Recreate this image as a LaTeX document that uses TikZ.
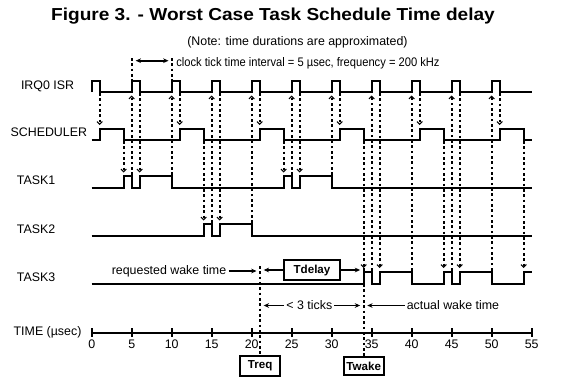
\documentclass[tikz,border=0pt]{standalone}
\usepackage{fontspec}
\setmainfont{Liberation Sans}
\usetikzlibrary{arrows.meta,positioning}
\tikzstyle{signal} = [line width=1.5pt]
\tikzstyle{marker} = [line width=1.3pt, dash pattern=on 2pt off 2pt]
\tikzstyle{handoff} = [marker, -{Straight Barb[length=2pt,width=4pt,line width=0.8pt]}]
\tikzstyle{legend} = [font=\fontsize{9.3}{11}\selectfont, inner sep=1.5pt]
\tikzstyle{box} = [draw, line width=1.5pt, font=\fontsize{8.7}{11}\selectfont\bfseries, inner xsep=1pt, minimum height=14pt]
\tikzstyle{arrow} = [line width=1.2pt, >={Stealth[length=4pt,width=3.5pt]}]
\newcommand{\drawHandDown}[3]{
  \draw[handoff] (#1,#2+1) -- (#1,#3-3.5);
}
\newcommand{\drawHandUp}[2]{
  \draw[handoff] (#1,#2-1) -- (#1,95.5);
}

\begin{document}
\begin{tikzpicture}[x=6pt, y=-0.75pt]
  \useasboundingbox (-11.4625,0) rectangle (58.9125,379);

  \node[anchor=base, font=\fontsize{13}{15}\selectfont\bfseries] (title) at (22.66,20.7) {\scalebox{1.1}[1]{Figure 3. - Worst Case Task Schedule Time delay}};
  \node[legend, anchor=base] (note) at (25.72,45) {(Note: time durations are approximated)};
  \node[legend, anchor=base west] (clock) at (10.3,66.5) {\scalebox{0.9}[1]{clock tick time interval = 5 µsec, frequency = 200 kHz}};

  % clock tick
  \draw[marker] (5,58) -- (5,81);
  \draw[marker] (10,58) -- (10,81);
  \draw[arrow,<->] (5.5,60.7) -- (9.6,60.7);

  % signal names
  \node[legend, anchor=base] (irqname) at (-5.52,89.5) {IRQ0 ISR};
  \node[legend, anchor=base] (schedname) at (-5.36,136.7) {SCHEDULER};
  \node[legend, anchor=base] (taskaname) at (-6.94,184.3) {TASK1};
  \node[legend, anchor=base] (taskbname) at (-6.94,233.3) {TASK2};
  \node[legend, anchor=base] (taskcname) at (-6.94,281.7) {TASK3};
  \node[legend, anchor=base] (timename) at (-5.52,335) {TIME (µsec)};

  % signals
  \draw[signal] (0,92) foreach \k in {0,5,...,50} {-- (\k,92) -- (\k,81) -- (\k+1,81) -- (\k+1,92)} -- (55,92);
  \draw[signal] (0,140) foreach \k in {0,10,...,50} {-- (\k+1,140) -- (\k+1,128.5) -- (\k+4,128.5) -- (\k+4,140)} -- (55,140);
  \draw[signal] (0,187.5) foreach \k in {0,20} {-- (\k+4,187.5) -- (\k+4,176) -- (\k+5,176) -- (\k+5,187.5) -- (\k+6,187.5) -- (\k+6,176) -- (\k+10,176) -- (\k+10,187.5)} -- (55,187.5);
  \draw[signal] (0,235.5) -- (14,235.5) -- (14,224) -- (15,224) -- (15,235.5) -- (16,235.5) -- (16,224) -- (20,224) -- (20,235.5) -- (55,235.5);
  \draw[signal] (0,283.5) foreach \k in {34,44} {-- (\k,283.5) -- (\k,271.5) -- (\k+1,271.5) -- (\k+1,283.5) -- (\k+2,283.5) -- (\k+2,271.5) -- (\k+6,271.5) -- (\k+6,283.5)} -- (54,283.5) -- (54,271.5) -- (55,271.5);

  % hand-offs
  \foreach \t in {1,11,...,51} {\drawHandDown{\t}{92}{128.5}}
  \foreach \t/\y in {6/176,16/224,26/176,36/271.5,46/271.5} {\drawHandDown{\t}{92}{\y}}
  \foreach \t/\y in {4/176,14/224,24/176,34/271.5,44/271.5,54/271.5} {\drawHandDown{\t}{140}{\y}}
  \foreach \t/\y in {5/176,10/176,15/224,20/224,25/176,30/176,35/271.5,40/271.5,45/271.5,50/271.5} {\drawHandUp{\t}{\y}}

  % time axis
  \draw[signal] (0,332.5) -- (55,332.5);
  \foreach \t in {0,5,...,55} {
    \draw[signal] (\t,328) -- (\t,337);
    \node[legend, anchor=base] (tick\t) at (\t,348.3) {\t};
  }

  % request and wake
  \node[box, minimum width=30pt] (treq) at (21.05,366) {Treq};
  \node[box, minimum width=30pt] (twake) at (34,366) {Twake};
  \node[box, minimum width=42pt, minimum height=15pt] (tdelay) at (27.54,270) {Tdelay};
  \coordinate (reqtop) at (21.05,266);
  \coordinate (waketop) at (34,268);
  \draw[marker] (reqtop) -- (treq.north);
  \draw[marker] (waketop) -- (twake.north);

  \coordinate (reqleft) at (20.6,0);
  \coordinate (reqright) at (21.5,0);
  \coordinate (wakeleft) at (33.55,0);
  \coordinate (wakeright) at (34.45,0);

  \node[legend, anchor=mid east] (request) at (17.1,271) {requested wake time};
  \draw[arrow,->] (request.mid east) -- (reqleft |- request.mid east);
  \draw[arrow,->] (tdelay.west) -- (reqright |- tdelay.west);
  \draw[arrow,->] (tdelay.east) -- (wakeleft |- tdelay.east);

  \node[legend, anchor=mid] (ticks) at (27.2,305.5) {< 3 ticks};
  \draw[arrow,->] (ticks.mid west) -- (reqright |- ticks.mid west);
  \draw[arrow,->] (ticks.mid east) -- (wakeleft |- ticks.mid east);
  \node[legend, anchor=mid west] (actual) at (39.1,305.5) {actual wake time};
  \draw[arrow,->] (actual.mid west) -- (wakeright |- actual.mid west);
\end{tikzpicture}
\end{document}
